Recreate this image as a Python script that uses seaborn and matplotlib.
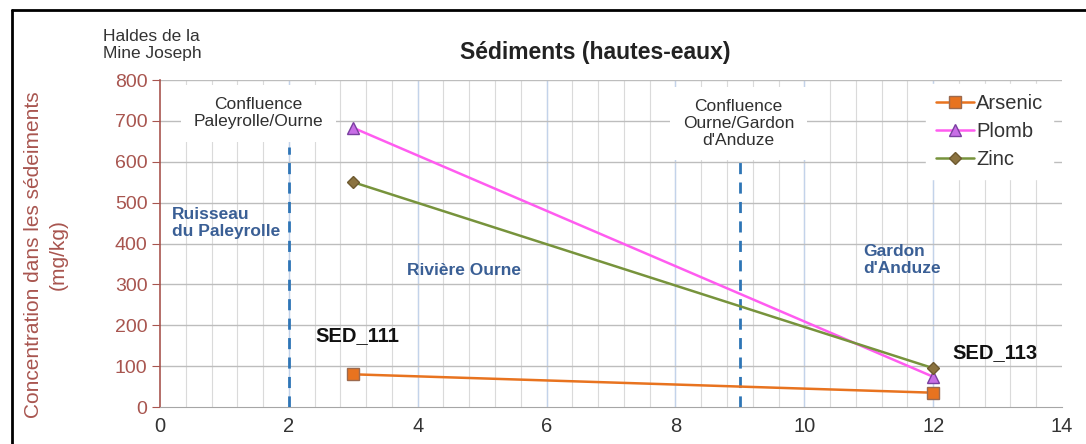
import numpy as np
import pandas as pd
import seaborn as sns
import matplotlib.pyplot as plt
from matplotlib.lines import Line2D

# ------------------------------------------------------------
# Data
# ------------------------------------------------------------
stations = ["SED_111", "SED_113"]
distance = [3, 12]
arsenic = [80, 35]
plomb = [683, 74]
zinc = [550, 95]

metals = ["Arsenic", "Plomb", "Zinc"]

df = pd.DataFrame({
    "distance": distance * 3,
    "conc": arsenic + plomb + zinc,
    "metal": [m for m in metals for _ in distance],
})

line_colors = {"Arsenic": "#E8731F", "Plomb": "#FF5CF0", "Zinc": "#77933C"}
marker_face = {"Arsenic": "#E8731F", "Plomb": "#C86EE6", "Zinc": "#8B7340"}
marker_edge = {"Arsenic": "#9C6A4E", "Plomb": "#7A3FA0", "Zinc": "#6E5A30"}
markers = {"Arsenic": "s", "Plomb": "^", "Zinc": "D"}
msizes = {"Arsenic": 9, "Plomb": 8, "Zinc": 6}

red_brown = "#A8554F"
river_blue = "#3A5F95"

# ------------------------------------------------------------
# Figure
# ------------------------------------------------------------
sns.set_style("white")
plt.rcParams["font.family"] = ["Liberation Sans", "DejaVu Sans"]

fig = plt.figure(figsize=(10.86, 4.44), dpi=100)
ax = fig.add_axes([0.1473, 0.0833, 0.8306, 0.7365])

# grid
ax.set_xlim(0, 14)
ax.set_ylim(0, 800)
for xv in np.arange(0.4, 14, 0.4):
    ax.axvline(xv, color="#DADADA", lw=0.8, zorder=0)
for xv in range(2, 14, 2):
    ax.axvline(xv, color="#C3D3EA", lw=1.0, zorder=0)
for yv in range(100, 801, 100):
    ax.axhline(yv, color="#BDBDBD", lw=1.0, zorder=0)

# series
for m in metals:
    sub = df[df["metal"] == m]
    sns.lineplot(data=sub, x="distance", y="conc", ax=ax, label=m,
                 color=line_colors[m], lw=1.8, marker=markers[m],
                 markersize=msizes[m], markerfacecolor=marker_face[m],
                 markeredgecolor=marker_edge[m], markeredgewidth=1.0,
                 zorder=5)

# confluences
ax.plot([2, 2], [0, 636], ls=(0, (4, 3)), color="#2E75B6", lw=2, zorder=3)
ax.plot([9, 9], [0, 600], ls=(0, (4, 3)), color="#2E75B6", lw=2, zorder=3)

box = dict(facecolor="white", edgecolor="none", pad=9)
ax.text(1.53, 719, "Confluence\nPaleyrolle/Ourne", ha="center", va="center",
        fontsize=12.5, color="#303030", linespacing=1.15, bbox=box, zorder=4)
ax.text(8.98, 694, "Confluence\nOurne/Gardon\nd'Anduze", ha="center", va="center",
        fontsize=12.5, color="#303030", linespacing=1.15, bbox=box, zorder=4)

ax.text(0.19, 450, "Ruisseau\ndu Paleyrolle", ha="left", va="center",
        fontsize=12.5, fontweight="bold", color=river_blue, linespacing=1.15, zorder=4)
ax.text(3.83, 335, "Rivière Ourne", ha="left", va="center",
        fontsize=12.5, fontweight="bold", color=river_blue, zorder=4)
ax.text(10.92, 360, "Gardon\nd'Anduze", ha="left", va="center",
        fontsize=12.5, fontweight="bold", color=river_blue, linespacing=1.15, zorder=4)

ax.text(2.42, 176, stations[0], ha="left", va="center",
        fontsize=14.5, fontweight="bold", color="#111111", zorder=4)
ax.text(12.3, 134, stations[1], ha="left", va="center",
        fontsize=14.5, fontweight="bold", color="#111111", zorder=4)

# axes styling
ax.set_xticks(range(0, 15, 2))
ax.set_yticks(range(0, 801, 100))
ax.tick_params(axis="x", colors="#333333", labelsize=14.5, length=0, pad=7)
ax.tick_params(axis="y", labelcolor=red_brown, color=red_brown, labelsize=14,
               length=6, direction="out", left=True, pad=3)
for s in ["top", "right"]:
    ax.spines[s].set_visible(False)
ax.spines["left"].set_color(red_brown)
ax.spines["left"].set_linewidth(1.2)
ax.spines["bottom"].set_color("#A6A6A6")
ax.set_xlabel("")
ax.set_ylabel("")

leg = ax.legend(loc="upper right", frameon=True, fontsize=14.5, handlelength=1.9,
                handletextpad=0.1, labelspacing=0.45, borderaxespad=0.2,
                borderpad=0.5, bbox_to_anchor=(0.995, 1.0))
leg.get_frame().set_edgecolor("white")
leg.get_frame().set_facecolor("white")
leg.get_frame().set_alpha(1)
leg.set_zorder(6)
for t in leg.get_texts():
    t.set_color("#333333")

# titles and labels
fig.text(0.548, 0.881, "Sédiments (hautes-eaux)", ha="center", va="center",
         fontsize=16.5, fontweight="bold", color="#222222")
fig.text(0.095, 0.899, "Haldes de la\nMine Joseph", ha="left", va="center",
         fontsize=12.5, color="#333333", linespacing=1.2)
fig.text(0.042, 1 - 255 / 444, "Concentration dans les sédeiments\n(mg/kg)",
         ha="center", va="center", rotation=90, fontsize=15, color=red_brown,
         linespacing=1.4)

# outer frame (top and left visible)
fig.add_artist(Line2D([12 / 1086, 12 / 1086], [0, 1 - 10 / 444], color="black", lw=2))
fig.add_artist(Line2D([12 / 1086, 1], [1 - 10 / 444, 1 - 10 / 444], color="black", lw=2))

fig.savefig("out.png", dpi=100)
